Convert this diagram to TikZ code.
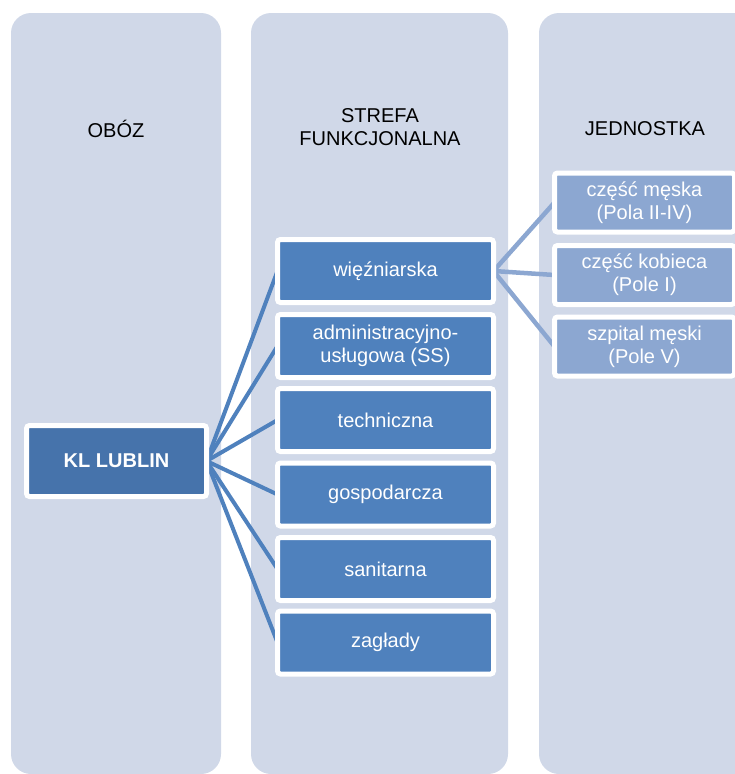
\documentclass[tikz,border=0pt]{standalone}
\usepackage{fontspec}
\setmainfont{Liberation Sans}
\pgfdeclarelayer{bg}
\pgfdeclarelayer{mid}
\pgfsetlayers{bg,mid,main}
\definecolor{colbg}{HTML}{D0D8E8}
\definecolor{klblue}{HTML}{4673AB}
\definecolor{midblue}{HTML}{4F81BD}
\definecolor{rightblue}{HTML}{8CA7D1}
\newcommand{\diagfont}{\fontsize{20}{23}\selectfont}
\tikzset{
  column/.style={fill=colbg, rounded corners=20pt},
  header/.style={font=\diagfont, text=black, align=center, inner sep=0pt},
  basebox/.style={rectangle, rounded corners=3pt, draw=white, line width=5pt,
    text=white, align=center, inner sep=0pt, outer sep=0pt, font=\diagfont},
  klbox/.style={basebox, fill=klblue, minimum width=180pt, minimum height=71pt, font=\diagfont\bfseries},
  midbox/.style={basebox, fill=midblue, minimum width=216pt, minimum height=63pt},
  rightbox/.style={basebox, fill=rightblue, minimum width=180pt, minimum height=59pt},
  leftline/.style={draw=midblue, line width=4pt},
  rightline/.style={draw=rightblue, line width=4.5pt},
}
\begin{document}
\begin{tikzpicture}[x=1pt,y=-1pt]
\useasboundingbox (0,0) rectangle (735,774);
\begin{pgfonlayer}{bg}
  \fill[column] (11,13) rectangle (221,774);
  \fill[column] (251,13) rectangle (508,774);
  \fill[column] (539,13) rectangle (770,774);
\end{pgfonlayer}

\node[header] (h1) at (116,129) {OBÓZ};
\node[header] (h2) at (380,127) {STREFA\\FUNKCJONALNA};
\node[header] (h3) at (645,129) {JEDNOSTKA};

\node[klbox] (kl) at (116.5,461) {KL LUBLIN};

\node[midbox] (m1) at (385.5,271) {więźniarska};
\node[midbox] (m2) at (385.5,346) {administracyjno-\\usługowa (SS)};
\node[midbox] (m3) at (385.5,420) {techniczna};
\node[midbox] (m4) at (385.5,494.5) {gospodarcza};
\node[midbox] (m5) at (385.5,569) {sanitarna};
\node[midbox] (m6) at (385.5,642.5) {zagłady};

\node[rightbox] (r1) at (644.5,202.5) {część męska\\(Pola II-IV)};
\node[rightbox] (r2) at (644.5,275) {część kobieca\\(Pole I)};
\node[rightbox] (r3) at (644.5,346.5) {szpital męski\\(Pole V)};

\begin{pgfonlayer}{mid}
  \foreach \m in {m1,m2,m3,m4,m5,m6}
    \draw[leftline] (kl.east) -- (\m.west);
  \foreach \r in {r1,r2,r3}
    \draw[rightline] (m1.east) -- (\r.west);
\end{pgfonlayer}
\end{tikzpicture}
\end{document}
